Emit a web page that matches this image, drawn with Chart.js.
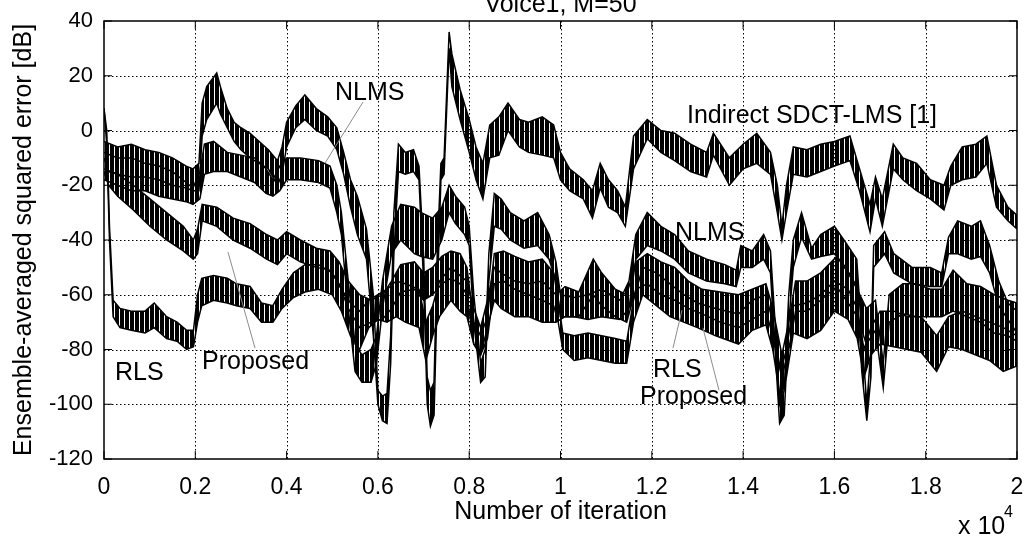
<!DOCTYPE html>
<html><head><meta charset="utf-8">
<script src="https://cdn.jsdelivr.net/npm/chart.js@4.4.1/dist/chart.umd.min.js"></script>
<style>html,body{margin:0;padding:0;background:#fff;overflow:hidden}#wrap{width:1026px;height:538px}</style>
</head><body><div id="wrap"><canvas id="c" width="1026" height="538"></canvas></div>
<script>
// ---------------- data ----------------
const xTicks = [0,2000,4000,6000,8000,10000,12000,14000,16000,18000,20000];
const xTickLabels = ['0','0.2','0.4','0.6','0.8','1','1.2','1.4','1.6','1.8','2'];
const yTicks = [-120,-100,-80,-60,-40,-20,0,20,40];

// Indirect SDCT-LMS [1]  (upper / lower envelope of the noisy curve, dB)
const sdctX = [0,300,600,900,1200,1500,1800,1950,2080,2150,2250,2470,2550,2700,2850,3000,3200,3400,3600,3800,3900,4000,4200,4400,4650,4900,5100,5250,5400,5550,5750,5900,6000,6100,6200,6280,6350,6450,6600,6780,6900,7000,7080,7150,7230,7300,7380,7450,7560,7620,7800,8000,8150,8300,8450,8650,8850,9100,9300,9600,9850,10000,10200,10500,10700,10870,11050,11250,11420,11600,11900,12200,12500,12850,13200,13350,13700,14000,14300,14600,14750,14850,14950,15100,15400,15700,16000,16340,16550,16780,16900,17050,17290,17500,17800,18100,18400,18550,18800,19100,19340,19550,19800,20000];
const sdctHi = [-4,-6,-5,-7,-8,-10,-13,-14,-12,10,16,21,16,8,3,1,-1,-4,-7,-11,-6,3,9,13,8,5,1,-8,-18,-24,-36,-60,-95,-97,-96,-75,-30,-5,-8,-7,-13,-45,-90,-95,-92,-45,-12,-10,36,28,15,4,-6,-12,2,5,10,4,3,5,2,-8,-14,-18,-22,-12,-18,-22,-28,-2,4,0,-1,-5,-8,-1,-10,-5,-1,-8,-20,-35,-20,-6,-7,-5,-4,-2,-14,-27,-17,-25,-5,-10,-12,-18,-20,-13,-6,-5,-2,-20,-28,-31];
const sdctLo = [-14,-16,-17,-17,-18,-20,-21,-22,-22,-2,4,10,6,1,-4,-7,-10,-12,-14,-20,-16,-6,1,4,0,-2,-7,-16,-28,-38,-47,-75,-100,-106,-107,-85,-45,-15,-16,-15,-18,-55,-100,-108,-104,-60,-18,-16,30,16,4,-8,-18,-25,-10,-9,0,-6,-8,-9,-10,-18,-22,-25,-32,-21,-28,-30,-35,-14,-3,-8,-11,-15,-17,-9,-20,-14,-12,-16,-30,-40,-30,-16,-17,-15,-13,-11,-22,-37,-25,-35,-14,-18,-22,-25,-29,-20,-18,-17,-12,-28,-33,-36];

// NLMS
const nlmsX = [0,300,600,900,1200,1500,1800,1950,2100,2200,2400,2700,3000,3300,3550,3700,3850,4000,4300,4700,4950,5100,5200,5350,5500,5650,5850,5970,6100,6300,6500,6800,6950,7200,7400,7560,7700,7900,8000,8100,8250,8350,8430,8550,8700,8900,9200,9500,9750,9900,10000,10300,10600,10900,11300,11500,11650,11900,12200,12500,12800,13200,13600,13850,13950,14200,14450,14600,14700,14800,14900,15000,15100,15280,15500,15700,16000,16250,16490,16600,16710,16800,16860,17100,17300,17700,18100,18350,18500,18700,19000,19200,19400,19600,19800,20000];
const nlmsHi = [-8,-10,-10,-12,-13,-15,-19,-21,-15,-5,-4,-8,-9,-10,-14,-18,-13,-10,-10,-11,-13,-20,-30,-55,-78,-82,-80,-75,-55,-35,-27,-28,-30,-32,-28,-20,-24,-28,-35,-60,-85,-80,-45,-23,-25,-30,-33,-30,-38,-48,-60,-61,-60,-58,-62,-55,-38,-30,-35,-38,-44,-47,-49,-51,-42,-44,-38,-44,-70,-100,-95,-60,-40,-30,-43,-38,-35,-41,-47,-75,-100,-80,-42,-37,-45,-50,-50,-52,-39,-33,-35,-33,-42,-55,-63,-66];
const nlmsLo = [-18,-20,-22,-22,-24,-25,-26,-27,-25,-16,-15,-15,-17,-19,-23,-24,-22,-18,-18,-19,-21,-30,-38,-65,-88,-92,-92,-85,-65,-45,-40,-45,-46,-47,-40,-30,-34,-38,-42,-70,-92,-90,-55,-35,-36,-40,-43,-42,-47,-55,-68,-68,-69,-68,-69,-65,-47,-42,-44,-47,-52,-55,-56,-57,-50,-50,-47,-52,-80,-107,-104,-70,-50,-39,-47,-46,-45,-50,-57,-88,-106,-90,-50,-45,-52,-56,-57,-57,-45,-45,-47,-46,-52,-64,-69,-74];

// RLS
const rlsX = [0,60,120,200,350,600,900,1100,1372,1600,1810,1960,2050,2140,2400,2700,2900,3200,3450,3700,3900,4150,4400,4700,5000,5200,5400,5600,5800,6000,6200,6400,6600,6900,7050,7200,7350,7600,7800,7950,8100,8250,8400,8550,8700,9000,9300,9600,9900,10100,10400,10718,10900,11200,11450,11650,11900,12200,12500,12800,13100,13500,13900,14200,14500,14650,14850,15000,15150,15400,15700,16050,16300,16500,16700,16900,17070,17200,17500,17800,18100,18350,18600,18900,19200,19500,19800,20000];
const rlsHi = [8,0,-35,-62,-65,-66,-66,-63,-68,-70,-73,-73,-60,-54,-53,-54,-56,-57,-63,-64,-58,-52,-49,-49,-52,-58,-63,-66,-62,-60,-58,-55,-56,-58,-70,-64,-55,-50,-53,-55,-65,-72,-62,-50,-52,-55,-56,-55,-60,-57,-59,-47,-52,-58,-60,-48,-45,-48,-50,-55,-58,-59,-60,-58,-56,-65,-82,-70,-55,-55,-52,-46,-52,-58,-65,-62,-85,-60,-56,-56,-58,-58,-51,-56,-57,-60,-62,-63];
const rlsLo = [8,-5,-40,-68,-72,-73,-74,-72,-76,-77,-80,-79,-70,-64,-62,-63,-64,-65,-70,-70,-65,-61,-59,-58,-60,-66,-75,-80,-72,-69,-70,-68,-70,-72,-84,-75,-68,-62,-66,-68,-78,-82,-72,-62,-65,-68,-68,-70,-70,-68,-68,-60,-64,-68,-70,-58,-56,-60,-62,-65,-67,-70,-72,-69,-66,-75,-90,-80,-66,-66,-62,-57,-63,-68,-78,-73,-94,-70,-67,-68,-68,-68,-66,-68,-70,-74,-75,-77];

// Proposed
const propX = [0,100,300,642,1007,1372,1737,1956,2050,2150,2470,2830,3200,3560,3800,4000,4300,4650,4950,5150,5350,5600,5850,6100,6300,6500,6800,7000,7200,7400,7600,7800,7950,8100,8250,8400,8550,8750,9000,9300,9600,9850,9950,10050,10300,10600,10900,11200,11450,11600,11800,12100,12400,12700,13000,13400,13900,14200,14500,14650,14820,14950,15100,15400,15700,16000,16300,16500,16650,16800,17000,17300,17600,17900,18240,18500,18800,19100,19400,19700,20000];
const propHi = [-10,-15,-16,-20,-25,-30,-35,-40,-36,-27,-28,-32,-34,-38,-40,-37,-40,-43,-44,-48,-55,-60,-62,-60,-55,-49,-48,-52,-50,-46,-44,-45,-50,-70,-75,-68,-45,-44,-46,-48,-47,-52,-62,-74,-75,-74,-75,-76,-77,-62,-50,-52,-56,-60,-63,-65,-67,-62,-60,-70,-88,-80,-64,-63,-60,-55,-58,-65,-80,-72,-66,-66,-68,-68,-75,-68,-66,-68,-70,-72,-75];
const propLo = [-15,-20,-24,-29,-35,-40,-44,-47,-45,-33,-35,-40,-43,-47,-49,-45,-48,-50,-51,-56,-65,-72,-70,-69,-65,-59,-58,-62,-60,-56,-54,-56,-60,-78,-82,-76,-56,-55,-58,-60,-62,-64,-70,-80,-84,-83,-84,-85,-85,-70,-60,-64,-68,-70,-72,-75,-78,-73,-71,-80,-98,-90,-74,-76,-73,-66,-69,-76,-90,-82,-78,-79,-80,-81,-88,-79,-80,-82,-84,-88,-86];

// in-plot labels [text, x(iteration), y(dB)] and pointer lines [x1,y1,x2,y2]
const labelTexts = ['NLMS','Indirect SDCT-LMS [1]','NLMS','RLS','Proposed','RLS','Proposed'];
const labelX = [5060,12771,12508,12026,11742,241,2147];
const labelY = [11.2,2.7,-40.0,-90.1,-100.0,-91.2,-87.2];
const pointers = [[5674,10.4,4841,-11.9],[12464,-79.5,12662,-65.6],[13472,-94.9,13122,-72.2],[3308,-79.5,2716,-44.4]];

// ---------------- chart ----------------
const canvas = document.getElementById('c');
const ctx0 = canvas.getContext('2d');
const tile = document.createElement('canvas'); tile.width = 5; tile.height = 4;
const tctx = tile.getContext('2d'); tctx.fillStyle = '#000'; tctx.fillRect(0,0,4,4);
const hatch = ctx0.createPattern(tile,'repeat');

const pts = (xs,ys)=>xs.map((v,i)=>({x:v,y:ys[i]}));
function band(xs,hi,lo){
  return [
    {data:pts(xs,hi),borderColor:'#000',borderWidth:1.5,pointRadius:0,fill:false,tension:0},
    {data:pts(xs,lo),borderColor:'#000',borderWidth:1.5,pointRadius:0,fill:'-1',backgroundColor:hatch,tension:0}
  ];
}
const FONT = '"Liberation Sans", Arial, Helvetica, sans-serif';

const deco = {
  id:'deco',
  beforeDatasetsDraw(chart){
    const {ctx, chartArea:a, scales:{x,y}} = chart;
    ctx.save();
    ctx.strokeStyle='#000'; ctx.lineWidth=1; ctx.setLineDash([1.5,2.5]);
    xTicks.slice(1,-1).forEach(v=>{const p=Math.round(x.getPixelForValue(v))+0.5;ctx.beginPath();ctx.moveTo(p,a.top);ctx.lineTo(p,a.bottom);ctx.stroke();});
    yTicks.slice(1,-1).forEach(v=>{const p=Math.round(y.getPixelForValue(v))+0.5;ctx.beginPath();ctx.moveTo(a.left,p);ctx.lineTo(a.right,p);ctx.stroke();});
    ctx.restore();
  },
  afterDraw(chart){
    const {ctx, chartArea:a, scales:{x,y}} = chart;
    ctx.save();
    ctx.setLineDash([]); ctx.strokeStyle='#000'; ctx.lineWidth=1.5;
    ctx.strokeRect(a.left,a.top,a.right-a.left,a.bottom-a.top);
    ctx.lineWidth=1;
    xTicks.forEach(v=>{const p=x.getPixelForValue(v);ctx.beginPath();ctx.moveTo(p,a.bottom);ctx.lineTo(p,a.bottom-8);ctx.moveTo(p,a.top);ctx.lineTo(p,a.top+8);ctx.stroke();});
    yTicks.forEach(v=>{const p=y.getPixelForValue(v);ctx.beginPath();ctx.moveTo(a.left,p);ctx.lineTo(a.left+8,p);ctx.moveTo(a.right,p);ctx.lineTo(a.right-8,p);ctx.stroke();});
    ctx.strokeStyle='#8c8c8c'; ctx.lineWidth=1;
    pointers.forEach(p=>{ctx.beginPath();ctx.moveTo(x.getPixelForValue(p[0]),y.getPixelForValue(p[1]));ctx.lineTo(x.getPixelForValue(p[2]),y.getPixelForValue(p[3]));ctx.stroke();});
    ctx.fillStyle='#000'; ctx.font='25px '+FONT; ctx.textBaseline='alphabetic'; ctx.textAlign='left';
    labelTexts.forEach((t,i)=>ctx.fillText(t,x.getPixelForValue(labelX[i]),y.getPixelForValue(labelY[i])));
    ctx.textAlign='center';
    ctx.fillText('Voice1, M=50',(a.left+a.right)/2,12);
    ctx.fillText('Number of iteration',(a.left+a.right)/2,519);
    ctx.textAlign='left';
    ctx.fillText('x 10',958,534);
    ctx.font='16px '+FONT; ctx.fillText('4',1004,517);
    ctx.font='25px '+FONT; ctx.textAlign='center';
    ctx.translate(31,(a.top+a.bottom)/2); ctx.rotate(-Math.PI/2);
    ctx.fillText('Ensemble-averaged squared error [dB]',0,0);
    ctx.restore();
  }
};

new Chart(canvas,{
  type:'line',
  data:{datasets:[...band(sdctX,sdctHi,sdctLo),...band(nlmsX,nlmsHi,nlmsLo),...band(rlsX,rlsHi,rlsLo),...band(propX,propHi,propLo)]},
  options:{
    responsive:false, animation:false, events:[],
    layout:{padding:{top:21,right:9,left:0,bottom:0}},
    plugins:{legend:{display:false},tooltip:{enabled:false},title:{display:false}},
    scales:{
      x:{type:'linear',min:0,max:20000,
        afterBuildTicks(s){s.ticks=xTicks.map(v=>({value:v}));},
        afterFit(s){s.height=79;s.paddingLeft=0;s.paddingRight=0;},
        grid:{display:false,drawTicks:false},border:{display:false},
        ticks:{autoSkip:false,maxRotation:0,padding:15,color:'#000',font:{family:FONT,size:23},
          callback:(v)=>xTickLabels[xTicks.indexOf(v)]}},
      y:{type:'linear',min:-120,max:40,
        afterBuildTicks(s){s.ticks=yTicks.map(v=>({value:v}));},
        afterFit(s){s.width=104;s.paddingTop=0;s.paddingBottom=0;},
        grid:{display:false,drawTicks:false},border:{display:false},
        ticks:{padding:11,color:'#000',font:{family:FONT,size:22}}}
    }
  },
  plugins:[deco]
});
</script></body></html>
